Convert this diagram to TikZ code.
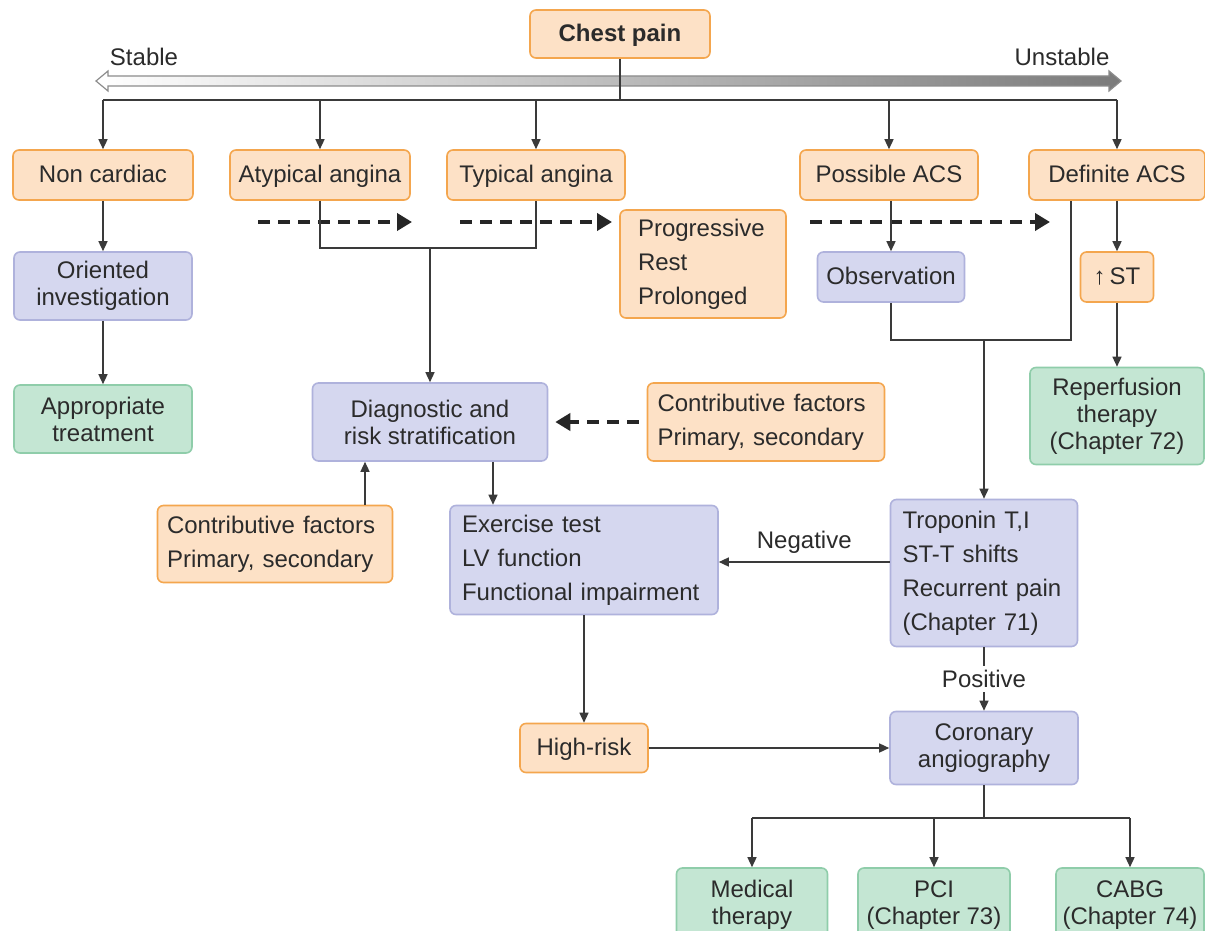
\documentclass[tikz,border=0pt]{standalone}
\usepackage{fontspec}
\setmainfont{Liberation Sans}
\usetikzlibrary{arrows.meta}
\definecolor{oF}{HTML}{FDE1C6}
\definecolor{oB}{HTML}{F4A64E}
\definecolor{pF}{HTML}{D5D7EF}
\definecolor{pB}{HTML}{AFB2DC}
\definecolor{gF}{HTML}{C4E6D3}
\definecolor{gB}{HTML}{8FCDAA}
\definecolor{txt}{HTML}{2B2B2B}
\definecolor{lineC}{HTML}{3A3A3A}
\tikzset{
  box/.style={draw, rounded corners=3pt, line width=0.8pt, text=txt, font=\fontsize{12}{13.5}\selectfont, align=center, inner sep=2pt},
  ob/.style={box, draw=oB, fill=oF},
  pb/.style={box, draw=pB, fill=pF},
  gb/.style={box, draw=gB, fill=gF},
  one/.style={text height=9.2pt, text depth=1.6pt},
  lst/.style={font=\fontsize{12}{17}\selectfont, align=left},
  conn/.style={draw=lineC, line width=0.7pt},
  arr/.style={conn, -{Triangle[length=5pt,width=4.5pt]}},
  darr/.style={draw=black!85, line width=2.2pt, dash pattern=on 6pt off 4pt, -{Triangle[length=7.5pt,width=8.5pt]}},
  lab/.style={text=txt, font=\fontsize{12}{13.5}\selectfont, inner sep=1pt}
}
\begin{document}
\begin{tikzpicture}[x=0.5pt, y=-0.5pt]
\clip (0,0) rectangle (1205,931);
\fill[white] (0,0) rectangle (1205,931);

% stability arrow
\shade[left color=white, right color=black!52, draw=black!45, line width=0.6pt]
  (96,81) -- (108,71) -- (108,76) -- (1109,76) -- (1109,71) -- (1121,81)
  -- (1109,91) -- (1109,86) -- (108,86) -- (108,91) -- cycle;
\node[lab] (stable) at (144,57) {Stable};
\node[lab] (unstable) at (1062,57) {Unstable};

% nodes
\node[ob, one, minimum width=90pt, minimum height=24pt, font=\bfseries\fontsize{12}{13.5}\selectfont] (cp) at (620,34) {Chest pain};

\node[ob, one, minimum width=90pt, minimum height=25pt] (nc) at (103,175) {Non cardiac};
\node[ob, one, minimum width=90pt, minimum height=25pt] (aty) at (320,175) {Atypical angina};
\node[ob, one, minimum width=89pt, minimum height=25pt] (typ) at (536,175) {Typical angina};
\node[ob, one, minimum width=89pt, minimum height=25pt] (pos) at (889,175) {Possible ACS};
\node[ob, one, minimum width=88pt, minimum height=25pt] (def) at (1117,175) {Definite ACS};

\node[ob, lst, text width=65pt, inner xsep=9pt, minimum height=54pt] (prog) at (703,264) {Progressive\\Rest\\Prolonged};

\node[pb, minimum width=89pt, minimum height=34pt] (ori) at (103,286) {Oriented\\investigation};
\node[gb, minimum width=89pt, minimum height=34pt] (app) at (103,419) {Appropriate\\treatment};

\node[pb, one, minimum width=73.5pt, minimum height=25pt] (obs) at (891,277) {Observation};
\node[ob, one, minimum width=36.5pt, minimum height=25pt] (st) at (1117,277) {↑\,ST};
\node[gb, minimum width=87pt, minimum height=48.5pt] (rep) at (1117,416) {Reperfusion\\therapy\\(Chapter 72)};

\node[pb, minimum width=117.5pt, minimum height=39pt] (diag) at (430,422) {Diagnostic and\\risk stratification};
\node[ob, lst, text width=108.5pt, inner xsep=5pt, minimum height=39pt] (ccr) at (766,422) {Contributive factors\\Primary, secondary};
\node[ob, lst, text width=108pt, inner xsep=4.75pt, minimum height=38.5pt] (ccl) at (275,544) {Contributive factors\\Primary, secondary};

\node[pb, lst, text width=122pt, inner xsep=6pt, minimum height=54.5pt] (ex) at (584,560) {Exercise test\\LV function\\Functional impairment};
\node[pb, lst, text width=81.5pt, inner xsep=6pt, minimum height=73.5pt] (trop) at (984,573) {Troponin T,I\\ST-T shifts\\Recurrent pain\\(Chapter 71)};

\node[ob, one, minimum width=64pt, minimum height=24.5pt] (hr) at (584,748) {High-risk};
\node[pb, minimum width=94pt, minimum height=36.5pt] (cor) at (984,748) {Coronary\\angiography};

\node[gb, minimum width=75.5pt, minimum height=37pt] (med) at (752,905) {Medical\\therapy};
\node[gb, minimum width=76pt, minimum height=37pt] (pci) at (934,905) {PCI\\(Chapter 73)};
\node[gb, minimum width=74pt, minimum height=37pt] (cabg) at (1130,905) {CABG\\(Chapter 74)};

% top distribution
\coordinate (top) at (620,100);
\draw[conn] (cp.south) -- (top);
\draw[conn] (nc |- top) -- (def |- top);
\foreach \n in {nc,aty,typ,pos,def}{
  \draw[arr] (\n |- top) -- (\n.north);
}

% dashed progression arrows
\coordinate (d1s) at (258,222); \coordinate (d1e) at (412,222);
\coordinate (d2s) at (460,222); \coordinate (d2e) at (612,222);
\coordinate (d3s) at (810,222); \coordinate (d3e) at (1050,222);
\draw[darr] (d1s) -- (d1e);
\draw[darr] (d2s) -- (d2e);
\draw[darr] (d3s) -- (d3e);

% left column
\draw[arr] (nc.south) -- (ori.north);
\draw[arr] (ori.south) -- (app.north);

% angina merge
\coordinate (m1) at (430,248);
\draw[conn] (aty.south) |- (m1) -| (typ.south);
\draw[arr] (m1) -- (diag.north);

% ACS side
\draw[arr] (pos.south -| obs) -- (obs.north);
\draw[arr] (def.south) -- (st.north);
\draw[arr] (st.south) -- (rep.north);
\coordinate (dL) at ([xshift=-23pt]def.south);
\coordinate (m2) at (984,340);
\draw[conn] (obs.south) |- (m2) -| (dL);
\draw[arr] (m2) -- (trop.north);

% contributive factors
\draw[darr, shorten <=4pt, shorten >=3.5pt] (ccr.west) -- (diag.east);
\coordinate (cl) at ([xshift=45pt]ccl.north);
\draw[arr] (cl) -- (cl |- diag.south);

% diag to exercise
\coordinate (dx) at ([xshift=31.5pt]diag.south);
\draw[arr] (dx) -- (dx |- ex.north);

% troponin results
\coordinate (ng) at ([yshift=5.5pt]trop.west);
\draw[arr] (ng) -- (ng -| ex.east) node[lab, midway, above=3pt] {Negative};
\draw[arr] (trop.south) -- (cor.north) node[lab, midway, fill=white, inner sep=2pt] {Positive};

% exercise to high risk to angiography
\draw[arr] (ex.south) -- (hr.north);
\draw[arr] (hr.east) -- (cor.west);

% bottom distribution
\coordinate (b) at (984,818);
\draw[conn] (cor.south) -- (b);
\draw[conn] (med |- b) -- (cabg |- b);
\foreach \n in {med,pci,cabg}{
  \draw[arr] (\n |- b) -- (\n.north);
}
\end{tikzpicture}
\end{document}
